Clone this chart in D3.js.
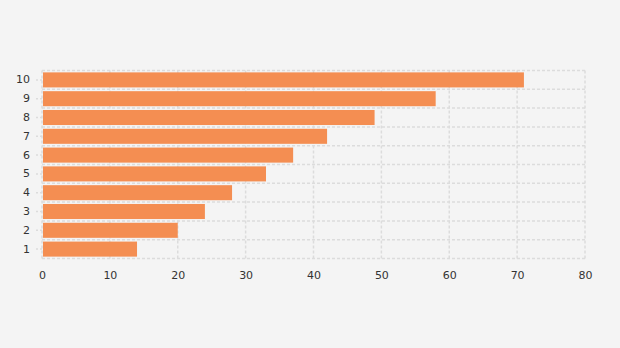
<!DOCTYPE html>
<html><head><meta charset="utf-8">
<script src="https://cdn.jsdelivr.net/npm/d3@7"></script>
<style>
html,body{margin:0;padding:0;background:#f4f4f4;}
svg{display:block;font-family:"DejaVu Sans",Verdana,sans-serif;}
</style></head><body>
<svg id="c" width="620" height="348"></svg>
<script>
const categories = ["1","2","3","4","5","6","7","8","9","10"];
const values = [14,20,24,28,33,37,42,49,58,71];
const xTicks = [0,10,20,30,40,50,60,70,80];

const svg = d3.select("#c");
const m = {left:42, right:35, top:70.5, bottom:89.5};
const W = 620, H = 348;
const x = d3.scaleLinear().domain([0,80]).range([m.left, W-m.right]);
const y = d3.scaleBand().domain(categories.slice().reverse()).range([m.top, H-m.bottom]).paddingInner(0.2).paddingOuter(0.1);
const yEdge = d3.scaleLinear().domain([0,categories.length]).range([H-m.bottom, m.top]);

const grid = svg.append("g").attr("stroke","#dcdcdc").attr("stroke-width",1.5).attr("stroke-dasharray","3,2").attr("fill","none");
xTicks.forEach(t=>{
  grid.append("line").attr("x1",x(t)).attr("x2",x(t)).attr("y1",m.top).attr("y2",H-m.bottom);
});
d3.range(categories.length+1).forEach(i=>{
  grid.append("line").attr("x1",m.left).attr("x2",W-m.right).attr("y1",yEdge(i)).attr("y2",yEdge(i));
});

svg.append("g").selectAll("rect").data(values).join("rect")
  .attr("x",x(0)+1).attr("y",(d,i)=>y(categories[i]))
  .attr("width",d=>x(d)-x(0)-1).attr("height",y.bandwidth())
  .attr("fill","#f48e52");

// y axis
const ya = svg.append("g").attr("transform",`translate(${m.left},0)`).call(d3.axisLeft(y).tickSize(6).tickPadding(6));
ya.select(".domain").remove();
ya.selectAll(".tick line").attr("stroke","#dcdcdc").attr("stroke-width",1.5).attr("stroke-dasharray","2,2");
ya.selectAll("text").attr("fill","#333").style("font-size","11px").style("font-family","'DejaVu Sans',Verdana,sans-serif");

// x axis
const xa = svg.append("g").attr("transform",`translate(0,${H-m.bottom})`).call(d3.axisBottom(x).tickValues(xTicks).tickSize(0).tickPadding(13));
xa.select(".domain").remove();
xa.selectAll("text").attr("fill","#333").style("font-size","11px").style("font-family","'DejaVu Sans',Verdana,sans-serif");
</script></body></html>
